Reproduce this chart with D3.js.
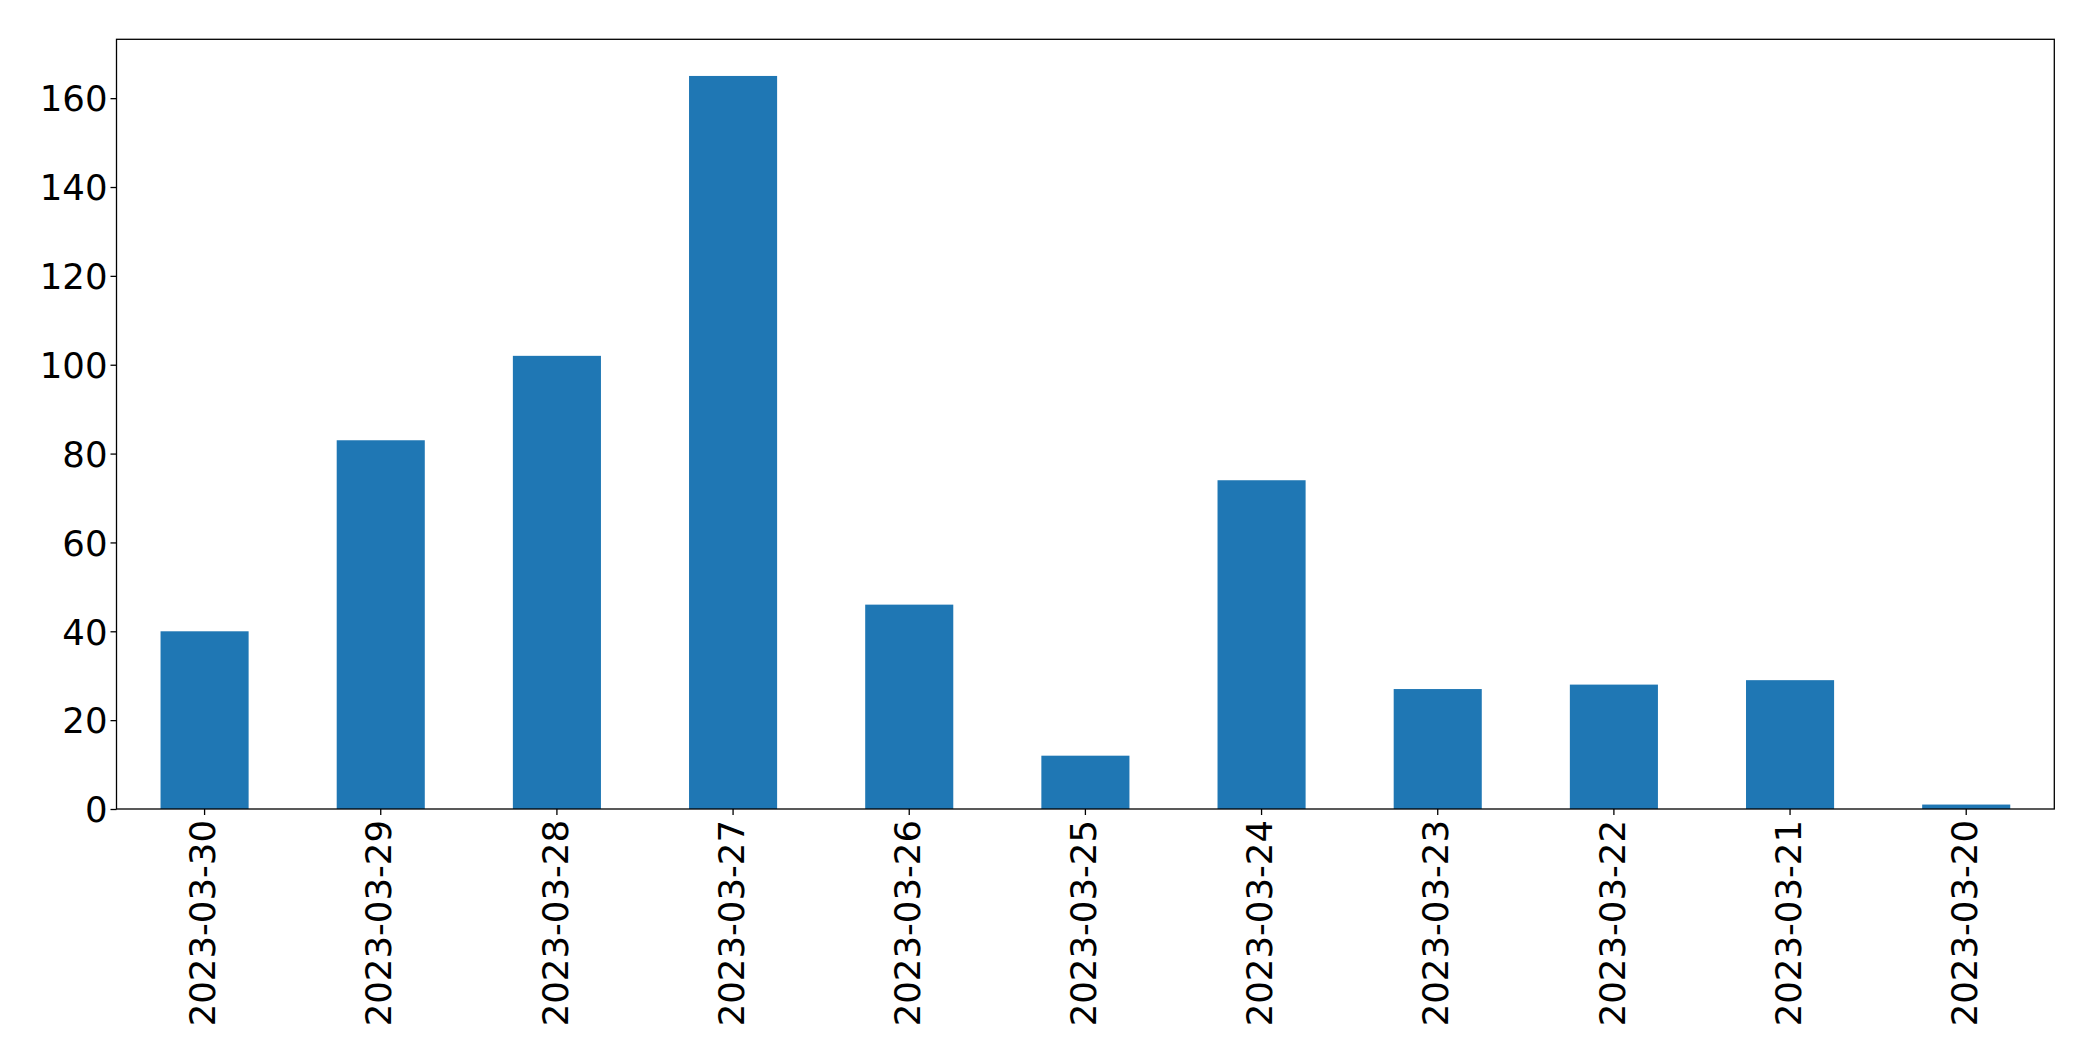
<!DOCTYPE html>
<html>
<head>
<meta charset="utf-8">
<script src="https://cdn.jsdelivr.net/npm/d3@7"></script>
<style>
  html, body { margin: 0; padding: 0; background: #fff; }
  svg { display: block; }
  text { font-family: "DejaVu Sans", sans-serif; fill: #000; }
</style>
</head>
<body>
<svg id="chart" width="2093" height="1061"></svg>
<script>
const categories = ["2023-03-30","2023-03-29","2023-03-28","2023-03-27","2023-03-26","2023-03-25","2023-03-24","2023-03-23","2023-03-22","2023-03-21","2023-03-20"];
const values = [40, 83, 102, 165, 46, 12, 74, 27, 28, 29, 1];
const yTicks = [0, 20, 40, 60, 80, 100, 120, 140, 160];

const W = 2093, H = 1061;
const margin = { left: 116.5, right: W - 2054.3, top: 39.3, bottom: H - 809 };
const svg = d3.select("#chart");
const iw = W - margin.left - margin.right;
const ih = H - margin.top - margin.bottom;
const g = svg.append("g").attr("transform", `translate(${margin.left},${margin.top})`);

const x = d3.scaleBand().domain(categories).range([0, iw]).paddingInner(0.5).paddingOuter(0.25);
const ymax = d3.max(values) * 1.05;
const y = d3.scaleLinear().domain([0, ymax]).range([ih, 0]);

g.selectAll("rect.bar").data(values).enter().append("rect")
  .attr("class", "bar")
  .attr("x", (d, i) => x(categories[i]))
  .attr("width", x.bandwidth())
  .attr("y", d => y(d))
  .attr("height", d => y(0) - y(d))
  .attr("fill", "#1f77b4");

const fs = 35.5;

// Y axis
const yAxis = d3.axisLeft(y).tickValues(yTicks).tickSize(6).tickPadding(3).tickFormat(d3.format("d"));
const ya = g.append("g").call(yAxis);
ya.select(".domain").remove();
ya.selectAll("line").attr("stroke", "#000").attr("stroke-width", 1.3);
ya.selectAll("text").style("font-size", fs + "px").attr("dy", "0.36em");

// X axis
const xAxis = d3.axisBottom(x).tickSize(6).tickPadding(0);
const xa = g.append("g").attr("transform", `translate(0,${ih})`).call(xAxis);
xa.select(".domain").remove();
xa.selectAll("line").attr("stroke", "#000").attr("stroke-width", 1.3);
xa.selectAll("text")
  .style("font-size", fs + "px")
  .attr("text-anchor", "end")
  .attr("y", 0)
  .attr("dy", "0.3em")
  .attr("transform", "translate(0,11) rotate(-90)");

// Frame
g.append("rect").attr("x", 0).attr("y", 0).attr("width", iw).attr("height", ih)
  .attr("fill", "none").attr("stroke", "#000").attr("stroke-width", 1.3);
</script>
</body>
</html>
